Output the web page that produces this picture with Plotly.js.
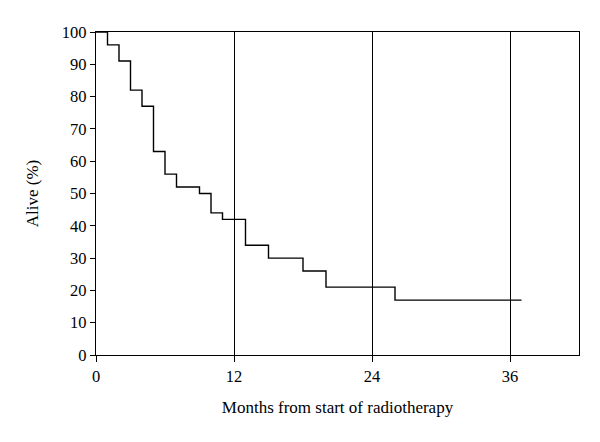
<!DOCTYPE html>
<html>
<head>
<meta charset="utf-8">
<script src="https://cdn.plot.ly/plotly-3.0.1.min.js"></script>
<style>html,body{margin:0;padding:0;background:#fff;}#chart{width:600px;height:442px;}</style>
</head>
<body>
<div id="chart"></div>
<script>
const months = [0, 1, 2, 3, 4, 5, 6, 7, 9, 10, 11, 13, 15, 18, 20, 26, 37];
const alive = [100, 96, 91, 82, 77, 63, 56, 52, 50, 44, 42, 34, 30, 26, 21, 17, 17];
const xTicks = [0, 12, 24, 36];
const yTicks = [0, 10, 20, 30, 40, 50, 60, 70, 80, 90, 100];

const font = {family: "Liberation Serif, Times New Roman, serif", color: "#000"};

Plotly.newPlot("chart", [{
  x: months,
  y: alive,
  type: "scatter",
  mode: "lines",
  line: {shape: "hv", color: "#000", width: 1.4},
  hoverinfo: "skip"
}], {
  width: 600,
  height: 442,
  margin: {l: 96, r: 21, t: 32, b: 87},
  paper_bgcolor: "#fff",
  plot_bgcolor: "#fff",
  showlegend: false,
  font: Object.assign({size: 16}, font),
  xaxis: {
    range: [0, 42],
    tickvals: xTicks,
    ticktext: xTicks.map(String),
    ticks: "outside",
    ticklen: 6,
    tickcolor: "#000",
    tickwidth: 1,
    showgrid: true,
    gridcolor: "#000",
    gridwidth: 1,
    showline: true,
    linecolor: "#000",
    linewidth: 1.3,
    mirror: true,
    zeroline: false,
    tickfont: Object.assign({size: 16.5}, font),
    title: {text: "Months from start of radiotherapy", font: Object.assign({size: 17}, font), standoff: 16}
  },
  yaxis: {
    range: [0, 100],
    tickvals: yTicks,
    ticks: "outside",
    ticklen: 5,
    tickcolor: "#000",
    tickwidth: 1,
    showgrid: false,
    showline: true,
    linecolor: "#000",
    linewidth: 1.3,
    mirror: true,
    zeroline: false,
    tickfont: Object.assign({size: 16.5}, font),
    title: {text: "Alive (%)", font: Object.assign({size: 17}, font), standoff: 18}
  }
}, {displayModeBar: false, staticPlot: true});
</script>
</body>
</html>
